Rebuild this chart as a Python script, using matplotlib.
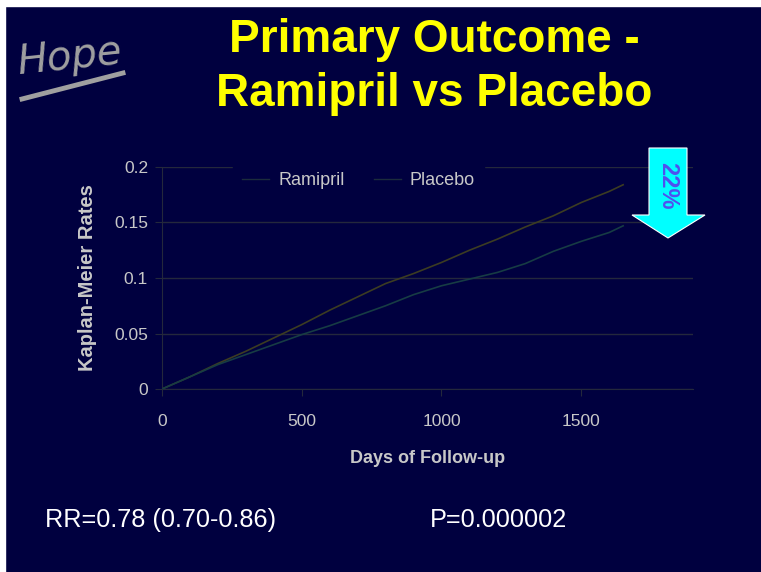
import matplotlib
matplotlib.use("Agg")
import matplotlib.pyplot as plt
from matplotlib.patches import Polygon, Rectangle
from matplotlib.lines import Line2D

# Kaplan-Meier rates
days = [0, 100, 200, 300, 400, 500, 600, 700, 800, 900, 1000, 1100, 1200, 1300, 1400, 1500, 1600, 1650]
placebo = [0, 0.011, 0.023, 0.034, 0.046, 0.058, 0.071, 0.083, 0.095, 0.104, 0.114, 0.125, 0.135, 0.146, 0.156, 0.168, 0.178, 0.184]
ramipril = [0, 0.011, 0.022, 0.031, 0.040, 0.049, 0.057, 0.066, 0.075, 0.085, 0.093, 0.099, 0.105, 0.113, 0.124, 0.133, 0.141, 0.147]

x_ticks = [0, 500, 1000, 1500]
y_ticks = [0, 0.05, 0.1, 0.15, 0.2]
y_labels = ["0", "0.05", "0.1", "0.15", "0.2"]

navy = "#00003f"
grid_col = "#24283c"
txt_grey = "#c8c8c8"

plt.rcParams["font.family"] = ["Liberation Sans", "DejaVu Sans"]

W, H = 761, 572
fig = plt.figure(figsize=(W / 100, H / 100), dpi=100, facecolor=navy)

def fx(px):
  return px / W

def fy(py):
  return 1 - py / H

# white strip left and top of the slide
fig.add_artist(Rectangle((0, 0), fx(5), 1, transform=fig.transFigure, color="white", zorder=0))
fig.add_artist(Rectangle((0, fy(6)), 1, 1 - fy(6), transform=fig.transFigure, color="white", zorder=0))

ax = fig.add_axes([fx(162), fy(389), fx(693) - fx(162), fy(167) - fy(389)])
ax.patch.set_alpha(0)

ax.plot(days, placebo, color="#3c3c22", lw=1.2, label="Placebo", zorder=3)
ax.plot(days, ramipril, color="#173c44", lw=1.2, label="Ramipril", zorder=3)

ax.set_xlim(0, 1900)
ax.set_ylim(0, 0.2)
ax.set_xticks(x_ticks)
ax.set_yticks(y_ticks)
ax.set_yticklabels(y_labels)
ax.yaxis.grid(True, color=grid_col, lw=1)
ax.set_axisbelow(True)
for side in ["top", "right"]:
  ax.spines[side].set_visible(False)
for side in ["left", "bottom"]:
  ax.spines[side].set_color(grid_col)
ax.tick_params(colors=grid_col, labelcolor=txt_grey, labelsize=12.5, length=5)
ax.tick_params(axis="x", pad=13)
ax.tick_params(axis="y", pad=5)

ax.set_xlabel("Days of Follow-up", color=txt_grey, fontsize=13, fontweight="bold", labelpad=15)
ax.set_ylabel("Kaplan-Meier Rates", color=txt_grey, fontsize=14.5, fontweight="bold", labelpad=12)

handles = [Line2D([], [], color="#1c2c3c", lw=1), Line2D([], [], color="#1c2c3c", lw=1)]
leg = ax.legend(handles, ["Ramipril", "Placebo"], loc="center", bbox_to_anchor=(0.37, 0.94),
                ncol=2, frameon=True, facecolor=navy, edgecolor=navy, framealpha=1,
                fontsize=13, handlelength=1.5, handletextpad=0.5, columnspacing=1.6,
                borderpad=0.5)
for t in leg.get_texts():
  t.set_color(txt_grey)

# title
fig.text(fx(434), fy(40), "Primary Outcome -", color="#ffff00", fontsize=33, fontweight="bold", ha="center", va="center")
fig.text(fx(434), fy(94), "Ramipril vs Placebo", color="#ffff00", fontsize=33, fontweight="bold", ha="center", va="center")

# Hope logo
fig.text(fx(70), fy(57), "Hope", color="#a0a0a0", fontsize=29, style="italic", family="DejaVu Sans",
         ha="center", va="center", rotation=6)
fig.add_artist(Line2D([fx(22), fx(123)], [fy(99), fy(73)], transform=fig.transFigure, color="#a0a0a0", lw=3.5))

# 22% arrow
arrow = [(649, 148), (687, 148), (687, 215), (705, 215), (668, 238), (632, 215), (649, 215)]
fig.add_artist(Polygon([(fx(a), fy(b)) for a, b in arrow], closed=True, transform=fig.transFigure,
                       facecolor="#00ffff", edgecolor="white", lw=0.8, zorder=5))
fig.text(fx(668), fy(186), "22%", color="#5050ee", fontsize=17, fontweight="bold", rotation=-90,
         ha="center", va="center", zorder=6)

# bottom statistics
fig.text(fx(45), fy(520), "RR=0.78 (0.70-0.86)", color="white", fontsize=18.2, ha="left", va="center")
fig.text(fx(430), fy(520), "P=0.000002", color="white", fontsize=18.2, ha="left", va="center")

fig.savefig("out.png", dpi=100, facecolor=fig.get_facecolor())
